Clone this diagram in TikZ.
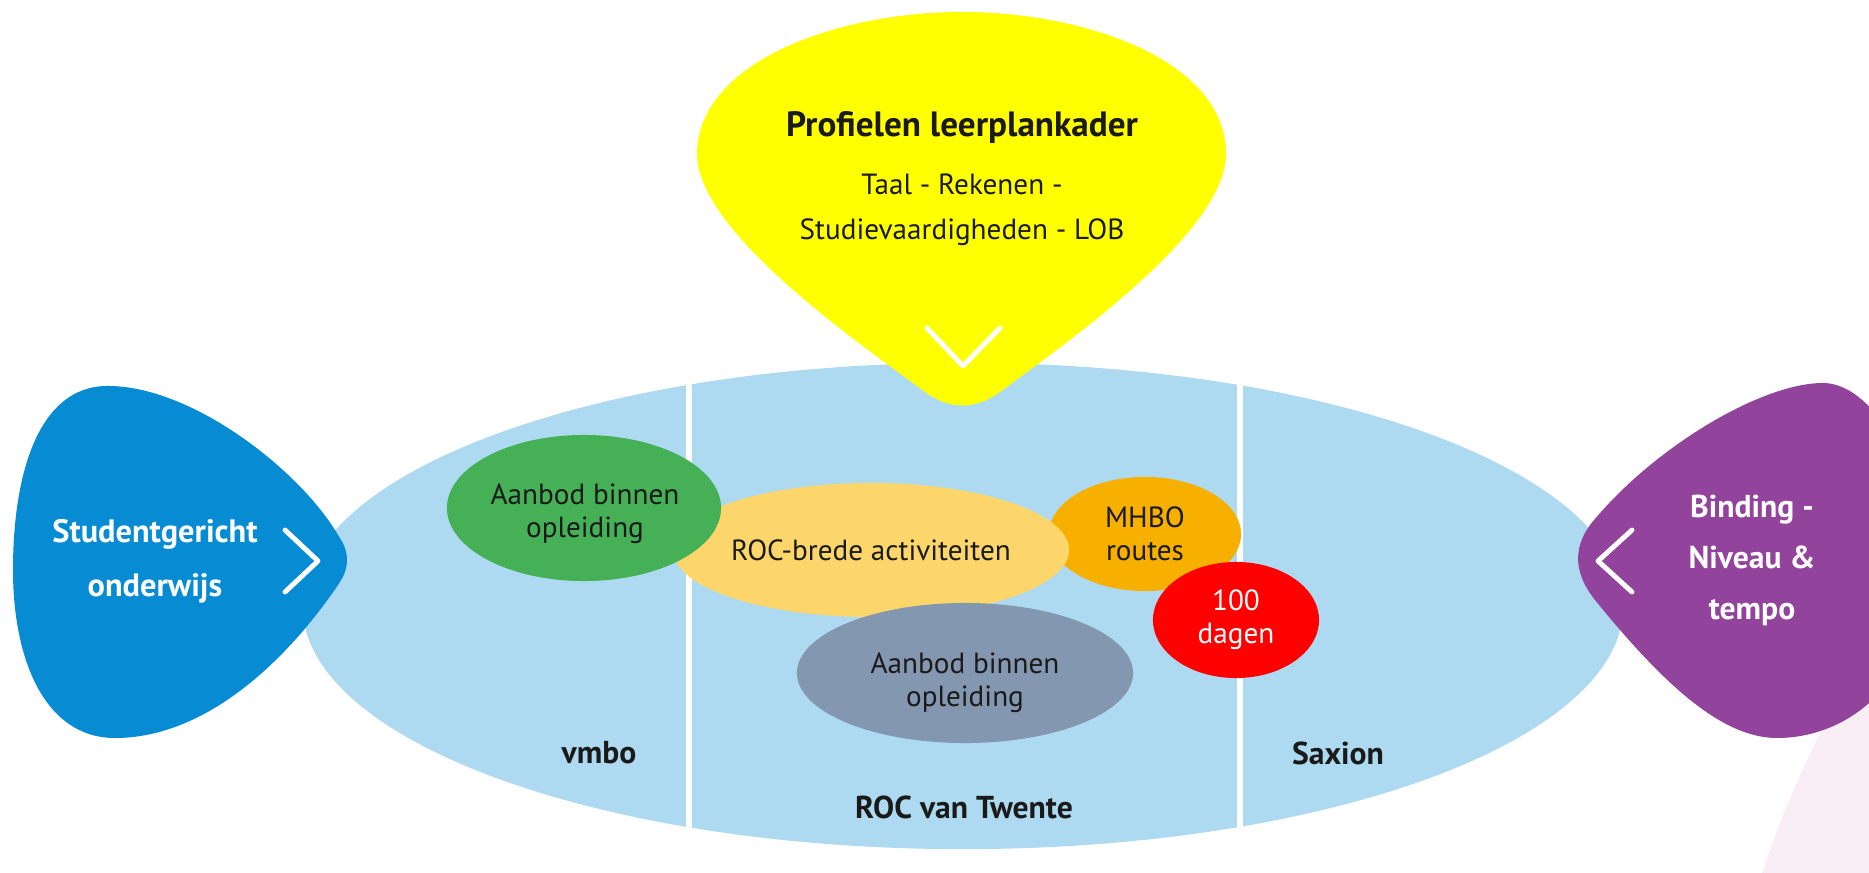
\documentclass[tikz,border=0pt]{standalone}
\usepackage{fontspec}
\setmainfont{PT Sans}
\usepackage{tikz}
\usetikzlibrary{shapes.geometric}

\definecolor{lichtblauw}{HTML}{ADDAF1}
\definecolor{geel}{HTML}{FFFF00}
\definecolor{blauw}{HTML}{078BD3}
\definecolor{paars}{HTML}{92439B}
\definecolor{groen}{HTML}{46B057}
\definecolor{lichtoranje}{HTML}{FCD66B}
\definecolor{oranje}{HTML}{F7AF00}
\definecolor{rood}{HTML}{FF0000}
\definecolor{grijs}{HTML}{8497B0}
\definecolor{roze}{HTML}{F9EEF5}
\definecolor{donker}{HTML}{1A1A1A}

\begin{document}
\begin{tikzpicture}[x=0.01cm, y=-0.01cm,
    bol/.style={ellipse, inner sep=0pt, align=center, text=donker,
      font=\fontsize{8.3}{9.4}\selectfont},
    tekst/.style={align=center, inner sep=0pt, text=donker,
      font=\fontsize{8.3}{9.4}\selectfont},
    kop/.style={align=center, text=white, font=\bfseries\fontsize{9}{15}\selectfont},
    onder/.style={text=donker, font=\bfseries\fontsize{9}{10}\selectfont},
    punt/.style={white, line width=1.4pt, line cap=round, line join=round}]

    \useasboundingbox (0,0) rectangle (1869,873);
    \clip (0,0) rectangle (1869,873);
    \fill[white] (0,0) rectangle (1869,873);

    % achtergrond
    \fill[roze] (1900,600) .. controls (1830,700) and (1790,790) .. (1762,873) -- (1900,873) -- cycle;
    \fill[lichtblauw] (963,606) ellipse (6.6cm and 2.43cm);
    \begin{scope}
        \clip (963,606) ellipse (6.6cm and 2.43cm);
        \draw[white, line width=1.5pt] (689,300) -- (689,900);
        \draw[white, line width=1.5pt] (1240,300) -- (1240,900);
    \end{scope}

    % bollen
    \node[bol, fill=oranje, minimum width=1.92cm, minimum height=1.14cm] (mhbo) at (1145,534) {MHBO\\routes};
    \node[bol, fill=lichtoranje, minimum width=3.96cm, minimum height=1.34cm] (breed) at (871,550) {ROC-brede activiteiten};
    \node[bol, fill=groen, minimum width=2.74cm, minimum height=1.46cm] (vmboaanbod) at (584,508) {};
    \node[tekst] (vmbotekst) at (585,514) {Aanbod binnen\\opleiding};
    \node[bol, fill=grijs, minimum width=3.36cm, minimum height=1.40cm] (rocaanbod) at (965,673) {};
    \node[tekst] (roctekst) at (965,683) {Aanbod binnen\\opleiding};
    \node[bol, fill=rood, text=white, minimum width=1.66cm, minimum height=1.16cm] (dagen) at (1236,620) {100\\dagen};

    \node[onder] (vmbo) at (599,753) {vmbo};
    \node[onder] (twente) at (964,807) {ROC van Twente};
    \node[onder] (saxion) at (1338,753) {Saxion};

    % druppels
    \fill[geel] (697,152) .. controls (700,60) and (840,12) .. (962,12)
        .. controls (1085,12) and (1224,60) .. (1226,152)
        .. controls (1228,230) and (1070,340) .. (1000,392)
        .. controls (975,410) and (950,410) .. (925,392)
        .. controls (855,340) and (695,230) .. cycle;
    \fill[blauw] (105,386) .. controls (190,384) and (300,470) .. (338,535)
        .. controls (350,552) and (350,568) .. (338,585)
        .. controls (280,670) and (200,738) .. (115,738)
        .. controls (45,738) and (13,660) .. (13,570)
        .. controls (13,470) and (40,388) .. cycle;
    \fill[paars] (1823,383) .. controls (1870,383) and (1920,460) .. (1925,560)
        .. controls (1925,680) and (1850,738) .. (1777,738)
        .. controls (1720,738) and (1660,680) .. (1595,600)
        .. controls (1575,575) and (1572,550) .. (1590,525)
        .. controls (1650,450) and (1760,383) .. cycle;

    \node[text=donker, font=\bfseries\fontsize{10}{12}\selectfont] (profielen) at (962,128) {Profielen leerplankader};
    \node[align=center, text=donker, font=\fontsize{8.3}{12.8}\selectfont] (vakken) at (962,210) {Taal - Rekenen -\\Studievaardigheden - LOB};
    \node[kop, font=\bfseries\fontsize{9.2}{15.4}\selectfont] (student) at (155,561) {Studentgericht\\onderwijs};
    \node[kop, font=\bfseries\fontsize{9}{14.5}\selectfont] (binding) at (1752,560) {Binding -\\Niveau \&\\tempo};

    \draw[punt] (285,530) -- (318,561) -- (285,592);
    \draw[punt] (1632,530) -- (1598,561) -- (1632,592);
    \draw[punt] (927,328) -- (963,366) -- (1000,328);
\end{tikzpicture}
\end{document}
